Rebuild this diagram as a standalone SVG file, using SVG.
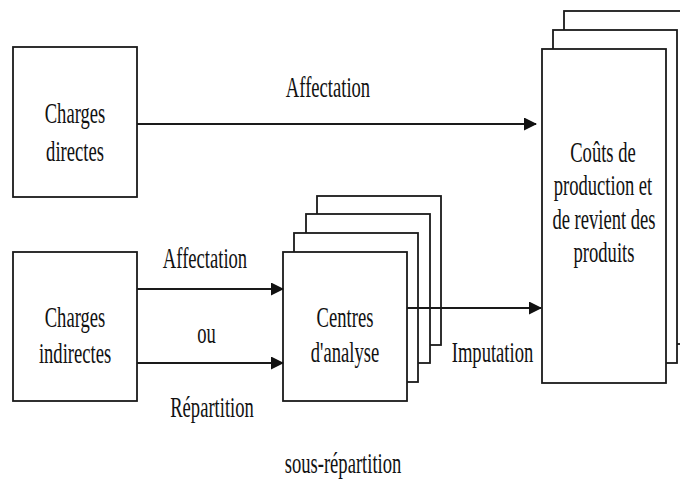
<svg xmlns="http://www.w3.org/2000/svg" width="680" height="479" viewBox="0 0 680 479">
<defs>
<style>
.box{fill:#fff;stroke:#1a1a1a;stroke-width:1.8}
.ln{stroke:#1a1a1a;stroke-width:1.8;fill:none}
text{font-family:"Liberation Serif","Times New Roman",serif;font-size:30px;fill:#111;text-anchor:middle}
</style>
<marker id="ah" markerUnits="userSpaceOnUse" markerWidth="13" markerHeight="13" refX="12" refY="6.5" orient="auto">
<path d="M0,0 L13,6.5 L0,13 Z" fill="#111"/>
</marker>
</defs>
<rect width="680" height="479" fill="#fff"/>
<g id="charges-directes">
<rect class="box" x="13" y="47" width="124" height="150"/>
<text transform="translate(75,123) scale(0.62,1)">Charges</text>
<text transform="translate(75,161) scale(0.62,1)">directes</text>
</g>
<g id="charges-indirectes">
<rect class="box" x="13" y="252" width="124" height="149"/>
<text transform="translate(75,327) scale(0.62,1)">Charges</text>
<text transform="translate(75,363) scale(0.62,1)">indirectes</text>
</g>
<g id="centres-analyse">
<rect class="box" x="317" y="196" width="124" height="149"/>
<rect class="box" x="306" y="214" width="124" height="149"/>
<rect class="box" x="294" y="233" width="124" height="149"/>
<rect class="box" x="283" y="252" width="124" height="149"/>
<text transform="translate(345,327) scale(0.62,1)">Centres</text>
<text transform="translate(345,362) scale(0.62,1)">d'analyse</text>
</g>
<g id="couts-production">
<rect class="box" x="564" y="11" width="124" height="333"/>
<rect class="box" x="553" y="30" width="124" height="333"/>
<rect class="box" x="542" y="49" width="124" height="334"/>
<text transform="translate(603,162) scale(0.62,1)">Coûts de</text>
<text transform="translate(603,195) scale(0.62,1)">production et</text>
<text transform="translate(604,229) scale(0.62,1)">de revient des</text>
<text transform="translate(604,262) scale(0.62,1)">produits</text>
</g>
<g id="connectors">
<line class="ln" x1="137" y1="124" x2="536" y2="124" marker-end="url(#ah)"/>
<line class="ln" x1="137" y1="289" x2="283" y2="289" marker-end="url(#ah)"/>
<line class="ln" x1="137" y1="363" x2="283" y2="363" marker-end="url(#ah)"/>
<line class="ln" x1="407" y1="308" x2="541" y2="308" marker-end="url(#ah)"/>
</g>
<g id="labels">
<text transform="translate(328,97) scale(0.62,1)">Affectation</text>
<text transform="translate(205,268) scale(0.62,1)">Affectation</text>
<text transform="translate(206.5,343) scale(0.62,1)">ou</text>
<text transform="translate(212,417) scale(0.62,1)">Répartition</text>
<text transform="translate(492.5,362) scale(0.62,1)">Imputation</text>
<text transform="translate(343,473) scale(0.62,1)">sous-répartition</text>
</g>
</svg>
